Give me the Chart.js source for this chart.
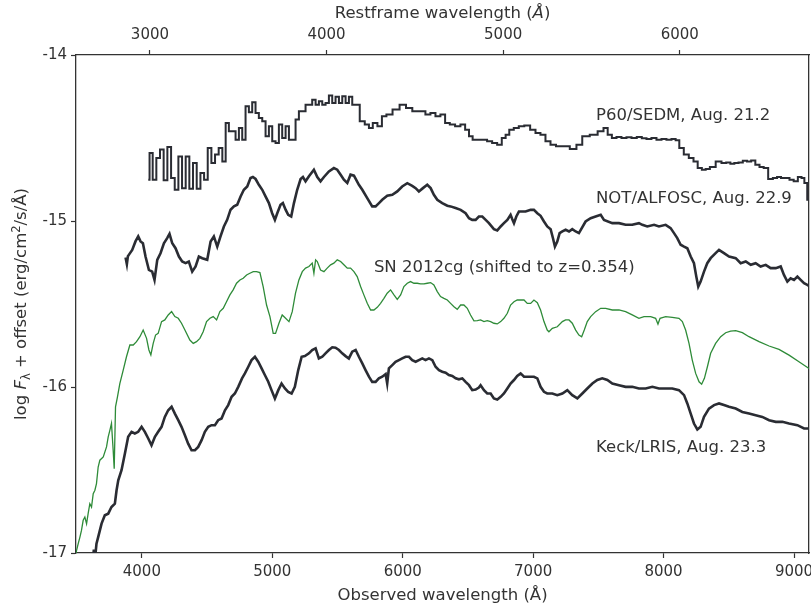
<!DOCTYPE html>
<html>
<head>
<meta charset="utf-8">
<script src="https://cdn.jsdelivr.net/npm/chart.js@4.4.1/dist/chart.umd.min.js"></script>
<style>
  html, body { margin: 0; padding: 0; background: #fff; }
</style>
</head>
<body>
<canvas id="myChart" width="811" height="606"></canvas>
<script>
// redshift used for the restframe axis
const z = 0.354;

const obsTicks = [4000, 5000, 6000, 7000, 8000, 9000];
const restTicks = [3000, 4000, 5000, 6000];
const fluxTicks = [-17, -16, -15, -14];

// P60/SEDM (binned, drawn as steps)
const p60Wave = [
  4049, 4069, 4097, 4125, 4153, 4181, 4210, 4238, 4266, 4294,
  4322, 4350, 4378, 4406, 4435, 4463, 4491, 4519, 4547, 4575,
  4603, 4631, 4654, 4680, 4706, 4731, 4757, 4782, 4808, 4833,
  4859, 4884, 4910, 4936, 4961, 4987, 5012, 5038, 5063, 5089,
  5115, 5140, 5166, 5191, 5217, 5242, 5268, 5293, 5319, 5345,
  5370, 5396, 5421, 5447, 5472, 5498, 5524, 5549, 5575, 5600,
  5626, 5651, 5690, 5728, 5754, 5787, 5825, 5856, 5894, 5950,
  6002, 6048, 6099, 6155, 6193, 6232, 6270, 6308, 6342, 6380,
  6423, 6462, 6495, 6521, 6551, 6590, 6628, 6666, 6705, 6743,
  6776, 6802, 6832, 6871, 6909, 6955, 6999, 7037, 7075, 7114,
  7152, 7198, 7249, 7313, 7351, 7402, 7466, 7523, 7556, 7587,
  7620, 7658, 7696, 7735, 7773, 7816, 7850, 7888, 7926, 7965,
  8003, 8041, 8080, 8105, 8136, 8174, 8213, 8246, 8277, 8310,
  8336, 8374, 8425, 8463, 8497, 8527, 8558, 8591, 8624, 8655,
  8688, 8719, 8752, 8783, 8821, 8855, 8885, 8916, 8949, 8982,
  9013, 9046, 9069, 9090, 9113
];
const p60Flux = [
  -14.751, -14.590, -14.751, -14.621, -14.570, -14.755, -14.554, -14.741, -14.812, -14.611,
  -14.802, -14.611, -14.806, -14.651, -14.806, -14.711, -14.751, -14.560, -14.651, -14.600,
  -14.560, -14.641, -14.409, -14.460, -14.460, -14.510, -14.440, -14.510, -14.309, -14.345,
  -14.285, -14.349, -14.379, -14.399, -14.490, -14.429, -14.520, -14.530, -14.419, -14.500,
  -14.429, -14.510, -14.510, -14.389, -14.339, -14.339, -14.299, -14.299, -14.269, -14.299,
  -14.279, -14.299, -14.289, -14.244, -14.289, -14.252, -14.289, -14.248, -14.289, -14.252,
  -14.299, -14.299, -14.399, -14.419, -14.440, -14.409, -14.429, -14.369, -14.359, -14.329,
  -14.299, -14.319, -14.339, -14.339, -14.359, -14.349, -14.369, -14.359, -14.409, -14.419,
  -14.429, -14.419, -14.450, -14.490, -14.510, -14.510, -14.510, -14.520, -14.530, -14.540,
  -14.500, -14.480, -14.450, -14.440, -14.429, -14.425, -14.450, -14.470, -14.480, -14.520,
  -14.540, -14.550, -14.550, -14.566, -14.540, -14.490, -14.480, -14.460, -14.440, -14.480,
  -14.500, -14.494, -14.500, -14.496, -14.500, -14.494, -14.502, -14.506, -14.500, -14.510,
  -14.506, -14.510, -14.506, -14.514, -14.560, -14.600, -14.621, -14.641, -14.681, -14.691,
  -14.687, -14.675, -14.641, -14.651, -14.647, -14.655, -14.651, -14.647, -14.637, -14.641,
  -14.635, -14.661, -14.675, -14.681, -14.747, -14.741, -14.735, -14.741, -14.741, -14.751,
  -14.761, -14.735, -14.741, -14.771, -14.872
];

// NOT/ALFOSC
const notWave = [
  3875, 3885, 3893, 3900, 3926, 3951, 3972, 3990, 4008, 4028,
  4054, 4079, 4097, 4118, 4143, 4169, 4194, 4212, 4233, 4258,
  4284, 4309, 4335, 4360, 4386, 4412, 4437, 4463, 4501, 4527,
  4552, 4578, 4603, 4629, 4654, 4680, 4706, 4731, 4757, 4782,
  4808, 4833, 4851, 4872, 4897, 4923, 4948, 4974, 4999, 5020,
  5038, 5063, 5081, 5102, 5122, 5145, 5166, 5191, 5217, 5235,
  5255, 5281, 5319, 5345, 5370, 5396, 5434, 5472, 5498, 5524,
  5549, 5575, 5600, 5626, 5664, 5690, 5728, 5766, 5792, 5818,
  5843, 5881, 5920, 5958, 5996, 6035, 6073, 6099, 6124, 6155,
  6188, 6214, 6239, 6265, 6303, 6342, 6367, 6405, 6444, 6482,
  6508, 6533, 6559, 6584, 6610, 6636, 6661, 6699, 6725, 6751,
  6776, 6802, 6827, 6840, 6853, 6871, 6891, 6917, 6942, 6981,
  7006, 7032, 7057, 7083, 7108, 7134, 7152, 7167, 7185, 7203,
  7224, 7249, 7275, 7300, 7326, 7351, 7402, 7441, 7479, 7518,
  7543, 7607, 7658, 7709, 7760, 7811, 7837, 7875, 7927, 7965,
  8016, 8054, 8080, 8105, 8131, 8157, 8182, 8208, 8233, 8251,
  8266, 8284, 8310, 8335, 8361, 8399, 8425, 8463, 8502, 8553,
  8591, 8630, 8668, 8706, 8744, 8783, 8821, 8860, 8898, 8923,
  8949, 8974, 9000, 9026, 9051, 9077, 9102, 9123
];
const notFlux = [
  -15.220, -15.260, -15.212, -15.204, -15.174, -15.123, -15.093, -15.123, -15.134, -15.214,
  -15.295, -15.305, -15.355, -15.234, -15.194, -15.134, -15.103, -15.077, -15.134, -15.164,
  -15.214, -15.244, -15.254, -15.244, -15.305, -15.274, -15.214, -15.224, -15.234, -15.123,
  -15.093, -15.154, -15.093, -15.033, -14.993, -14.932, -14.912, -14.902, -14.852, -14.812,
  -14.792, -14.741, -14.735, -14.747, -14.782, -14.812, -14.852, -14.892, -14.953, -14.993,
  -14.953, -14.902, -14.892, -14.932, -14.963, -14.973, -14.892, -14.812, -14.747, -14.735,
  -14.761, -14.731, -14.691, -14.735, -14.761, -14.735, -14.701, -14.681, -14.691, -14.721,
  -14.751, -14.771, -14.721, -14.727, -14.782, -14.812, -14.862, -14.912, -14.912, -14.892,
  -14.872, -14.848, -14.842, -14.822, -14.792, -14.772, -14.788, -14.802, -14.822, -14.802,
  -14.782, -14.802, -14.842, -14.872, -14.892, -14.908, -14.912, -14.922, -14.933, -14.953,
  -14.983, -14.993, -14.993, -14.973, -14.973, -14.993, -15.013, -15.049, -15.057, -15.033,
  -15.013, -14.993, -14.963, -14.989, -15.013, -14.973, -14.943, -14.943, -14.943, -14.933,
  -14.933, -14.953, -14.969, -15.003, -15.033, -15.049, -15.104, -15.154, -15.124, -15.073,
  -15.063, -15.053, -15.063, -15.049, -15.063, -15.073, -15.003, -14.983, -14.973, -14.963,
  -14.993, -15.013, -15.013, -15.023, -15.023, -15.013, -15.023, -15.033, -15.023, -15.033,
  -15.023, -15.043, -15.073, -15.103, -15.143, -15.154, -15.164, -15.214, -15.254, -15.335,
  -15.395, -15.365, -15.305, -15.254, -15.224, -15.194, -15.174, -15.194, -15.214, -15.224,
  -15.254, -15.244, -15.264, -15.254, -15.274, -15.264, -15.284, -15.284, -15.274, -15.325,
  -15.365, -15.345, -15.355, -15.335, -15.355, -15.375, -15.385, -15.395
];

// SN 2012cg, shifted to z = 0.354
const cgWave = [
  3492, 3499, 3512, 3525, 3537, 3550, 3563, 3576, 3588, 3601,
  3614, 3627, 3640, 3652, 3665, 3678, 3704, 3729, 3742, 3755,
  3767, 3780, 3788, 3798, 3813, 3831, 3857, 3882, 3908, 3934,
  3959, 3985, 4010, 4036, 4054, 4069, 4087, 4105, 4125, 4151,
  4176, 4202, 4228, 4253, 4279, 4304, 4330, 4368, 4394, 4419,
  4445, 4470, 4496, 4522, 4547, 4573, 4598, 4624, 4649, 4675,
  4700, 4726, 4752, 4777, 4803, 4828, 4854, 4879, 4905, 4930,
  4956, 4982, 5007, 5025, 5051, 5076, 5102, 5128, 5153, 5178,
  5204, 5230, 5255, 5281, 5306, 5319, 5332, 5345, 5370, 5396,
  5421, 5447, 5472, 5498, 5524, 5549, 5575, 5600, 5626, 5651,
  5677, 5702, 5728, 5754, 5779, 5805, 5830, 5856, 5881, 5907,
  5933, 5958, 5984, 6009, 6035, 6060, 6086, 6111, 6137, 6163,
  6188, 6214, 6239, 6265, 6290, 6316, 6342, 6367, 6393, 6418,
  6444, 6469, 6495, 6520, 6546, 6572, 6597, 6623, 6648, 6674,
  6699, 6725, 6751, 6776, 6802, 6827, 6853, 6878, 6904, 6930,
  6955, 6981, 7006, 7032, 7057, 7083, 7108, 7121, 7147, 7185,
  7224, 7249, 7275, 7300, 7326, 7351, 7372, 7392, 7415, 7441,
  7479, 7518, 7556, 7607, 7658, 7709, 7760, 7811, 7850, 7901,
  7939, 7957, 7973, 8016, 8067, 8118, 8144, 8169, 8195, 8220,
  8246, 8272, 8292, 8313, 8336, 8361, 8399, 8438, 8476, 8514,
  8553, 8604, 8655, 8732, 8809, 8885, 8962, 9038, 9115
];
const cgFlux = [
  -17.020, -16.985, -16.944, -16.904, -16.864, -16.803, -16.783, -16.824, -16.763, -16.703,
  -16.723, -16.643, -16.622, -16.582, -16.482, -16.441, -16.421, -16.361, -16.300, -16.260,
  -16.220, -16.381, -16.492, -16.119, -16.059, -15.979, -15.898, -15.818, -15.747, -15.747,
  -15.727, -15.697, -15.657, -15.707, -15.777, -15.807, -15.737, -15.687, -15.677, -15.606,
  -15.596, -15.566, -15.546, -15.576, -15.586, -15.616, -15.657, -15.717, -15.737, -15.727,
  -15.707, -15.667, -15.606, -15.586, -15.576, -15.596, -15.546, -15.526, -15.486, -15.445,
  -15.415, -15.375, -15.355, -15.345, -15.325, -15.315, -15.305, -15.305, -15.311, -15.395,
  -15.506, -15.576, -15.677, -15.677, -15.616, -15.566, -15.586, -15.606, -15.546, -15.435,
  -15.355, -15.305, -15.284, -15.274, -15.254, -15.315, -15.234, -15.244, -15.295, -15.305,
  -15.284, -15.264, -15.254, -15.234, -15.244, -15.264, -15.284, -15.284, -15.305, -15.335,
  -15.395, -15.445, -15.496, -15.536, -15.536, -15.520, -15.496, -15.466, -15.435, -15.415,
  -15.445, -15.472, -15.445, -15.395, -15.375, -15.365, -15.375, -15.375, -15.379, -15.379,
  -15.375, -15.371, -15.385, -15.425, -15.455, -15.466, -15.476, -15.496, -15.516, -15.532,
  -15.506, -15.506, -15.526, -15.566, -15.602, -15.600, -15.596, -15.606, -15.600, -15.606,
  -15.616, -15.620, -15.606, -15.586, -15.556, -15.506, -15.486, -15.476, -15.476, -15.476,
  -15.496, -15.496, -15.476, -15.492, -15.536, -15.606, -15.657, -15.667, -15.647, -15.637,
  -15.606, -15.596, -15.596, -15.616, -15.657, -15.687, -15.697, -15.657, -15.606, -15.576,
  -15.546, -15.526, -15.526, -15.536, -15.536, -15.546, -15.566, -15.586, -15.576, -15.576,
  -15.586, -15.621, -15.586, -15.576, -15.580, -15.586, -15.606, -15.657, -15.737, -15.838,
  -15.918, -15.969, -15.983, -15.948, -15.878, -15.797, -15.737, -15.697, -15.673, -15.663,
  -15.661, -15.673, -15.697, -15.727, -15.753, -15.773, -15.808, -15.848, -15.888
];

// Keck/LRIS
const keckWave = [
  3620, 3632, 3640, 3652, 3665, 3678, 3691, 3716, 3742, 3767,
  3793, 3806, 3819, 3844, 3870, 3895, 3921, 3946, 3972, 3998,
  4023, 4049, 4074, 4100, 4125, 4151, 4176, 4202, 4228, 4253,
  4279, 4304, 4330, 4355, 4381, 4407, 4432, 4458, 4483, 4509,
  4534, 4560, 4585, 4611, 4637, 4662, 4688, 4713, 4739, 4768,
  4790, 4816, 4841, 4867, 4892, 4918, 4943, 4969, 4994, 5020,
  5046, 5071, 5097, 5122, 5148, 5173, 5199, 5225, 5250, 5281,
  5306, 5332, 5357, 5383, 5408, 5434, 5460, 5485, 5511, 5536,
  5562, 5587, 5613, 5639, 5664, 5690, 5715, 5741, 5766, 5792,
  5817, 5843, 5869, 5881, 5894, 5920, 5945, 5971, 5996, 6022,
  6048, 6073, 6099, 6124, 6150, 6175, 6201, 6227, 6252, 6278,
  6303, 6329, 6354, 6380, 6406, 6431, 6457, 6482, 6508, 6533,
  6559, 6584, 6597, 6623, 6648, 6674, 6699, 6725, 6751, 6776,
  6802, 6827, 6853, 6878, 6904, 6930, 6955, 6981, 7006, 7032,
  7057, 7083, 7108, 7147, 7185, 7224, 7262, 7300, 7339, 7377,
  7415, 7454, 7492, 7530, 7569, 7607, 7658, 7709, 7760, 7811,
  7863, 7914, 7965, 8016, 8067, 8118, 8157, 8182, 8208, 8233,
  8259, 8284, 8310, 8348, 8387, 8425, 8463, 8502, 8553, 8604,
  8655, 8706, 8757, 8809, 8860, 8911, 8962, 9026, 9077, 9115
];
const keckFlux = [
  -17.080, -16.980, -17.040, -16.944, -16.904, -16.864, -16.823, -16.773, -16.763, -16.723,
  -16.703, -16.622, -16.562, -16.501, -16.401, -16.300, -16.270, -16.280, -16.270, -16.240,
  -16.270, -16.310, -16.351, -16.300, -16.270, -16.240, -16.180, -16.140, -16.119, -16.160,
  -16.200, -16.240, -16.290, -16.341, -16.381, -16.381, -16.361, -16.320, -16.270, -16.240,
  -16.230, -16.230, -16.200, -16.190, -16.140, -16.109, -16.059, -16.039, -15.999, -15.948,
  -15.918, -15.878, -15.838, -15.818, -15.848, -15.888, -15.928, -15.968, -16.019, -16.069,
  -16.019, -15.979, -16.009, -16.029, -16.039, -15.999, -15.898, -15.818, -15.814, -15.797,
  -15.777, -15.767, -15.828, -15.818, -15.797, -15.777, -15.761, -15.763, -15.777, -15.797,
  -15.814, -15.828, -15.787, -15.777, -15.818, -15.858, -15.898, -15.938, -15.969, -15.969,
  -15.948, -15.938, -15.922, -15.979, -15.888, -15.868, -15.848, -15.838, -15.828, -15.818,
  -15.818, -15.838, -15.848, -15.838, -15.828, -15.838, -15.828, -15.838, -15.878, -15.898,
  -15.908, -15.914, -15.928, -15.934, -15.948, -15.954, -15.948, -15.969, -15.989, -16.019,
  -16.015, -16.003, -15.989, -16.019, -16.039, -16.039, -16.069, -16.075, -16.059, -16.039,
  -16.009, -15.979, -15.958, -15.934, -15.918, -15.938, -15.938, -15.938, -15.938, -15.948,
  -15.999, -16.029, -16.039, -16.039, -16.049, -16.039, -16.019, -16.049, -16.069, -16.039,
  -16.009, -15.979, -15.958, -15.948, -15.958, -15.979, -15.989, -15.999, -15.999, -16.009,
  -16.009, -15.999, -16.009, -16.009, -16.009, -16.019, -16.049, -16.099, -16.160, -16.220,
  -16.256, -16.240, -16.180, -16.130, -16.109, -16.099, -16.109, -16.119, -16.130, -16.150,
  -16.160, -16.170, -16.180, -16.200, -16.210, -16.210, -16.220, -16.230, -16.250, -16.250
];

const noteText = ['P60/SEDM, Aug. 21.2', 'NOT/ALFOSC, Aug. 22.9', 'SN 2012cg (shifted to z=0.354)', 'Keck/LRIS, Aug. 23.3'];
const noteWave = [7482, 7482, 5779, 7482];
const noteFlux = [-14.365, -14.866, -15.283, -16.363];

const xMin = 3495, xMax = 9115;
const ink = '#333333';
const dark = '#2a2c33';
const green = '#2e8b38';
const FAMILY = '"DejaVu Sans", sans-serif';

function pts(w, f) {
  return w.map((v, i) => ({ x: v, y: f[i] }));
}

// draws a run of text pieces (normal / italic / sub / superscript) centred on cx, cy
function richText(ctx, parts, cx, cy, size) {
  let total = 0;
  parts.forEach(p => {
    p.px = size * (p.scale || 1);
    ctx.font = (p.italic ? 'italic ' : '') + p.px + 'px ' + FAMILY;
    p.w = ctx.measureText(p.t).width;
    total += p.w;
  });
  let x = cx - total / 2;
  parts.forEach(p => {
    ctx.font = (p.italic ? 'italic ' : '') + p.px + 'px ' + FAMILY;
    ctx.fillText(p.t, x, cy + (p.dy || 0) * size);
    x += p.w;
  });
}

const textPlugin = {
  id: 'spectraText',
  afterDraw(chart) {
    const { ctx, scales: { x, y }, chartArea } = chart;
    ctx.save();
    ctx.fillStyle = ink;
    ctx.textBaseline = 'middle';
    ctx.textAlign = 'left';
    ctx.font = '16.5px ' + FAMILY;
    noteText.forEach((t, i) => {
      ctx.fillText(t, x.getPixelForValue(noteWave[i]), y.getPixelForValue(noteFlux[i]));
    });

    // top axis title
    const midX = (chartArea.left + chartArea.right) / 2;
    richText(ctx, [
      { t: 'Restframe wavelength (' },
      { t: 'Å', italic: true },
      { t: ')' }
    ], midX, 14, 16.5);

    // y axis title
    ctx.translate(22, (chartArea.top + chartArea.bottom) / 2);
    ctx.rotate(-Math.PI / 2);
    richText(ctx, [
      { t: 'log ' },
      { t: 'F', italic: true },
      { t: 'λ', scale: 0.7, dy: 0.28 },
      { t: ' + offset (erg/cm' },
      { t: '2', scale: 0.7, dy: -0.3 },
      { t: '/s/Å)' }
    ], 0, 0, 16.5);
    ctx.restore();
  }
};

function fixSize(prop, size) {
  return function (scale) {
    scale[prop] = size;
    scale.paddingLeft = 0;
    scale.paddingRight = 0;
    scale.paddingTop = 0;
    scale.paddingBottom = 0;
  };
}

const tickFont = { family: FAMILY, size: 15 };
const gridOpts = { drawOnChartArea: false, drawTicks: true, tickLength: 5, tickWidth: 1.2, tickColor: ink, color: ink };
const borderOpts = { display: true, color: ink, width: 1.3 };

new Chart('myChart', {
  type: 'line',
  data: {
    datasets: [
      { data: pts(p60Wave, p60Flux), borderColor: dark, borderWidth: 2, stepped: 'middle' },
      { data: pts(notWave, notFlux), borderColor: dark, borderWidth: 2.6 },
      { data: pts(keckWave, keckFlux), borderColor: dark, borderWidth: 2.6 },
      { data: pts(cgWave, cgFlux), borderColor: green, borderWidth: 1.3 }
    ]
  },
  options: {
    responsive: false,
    animation: false,
    events: [],
    layout: { padding: 0 },
    elements: { point: { radius: 0 }, line: { tension: 0, borderJoinStyle: 'miter' } },
    plugins: { legend: { display: false }, tooltip: { enabled: false } },
    scales: {
      x: {
        type: 'linear', position: 'bottom', min: xMin, max: xMax,
        afterFit: fixSize('height', 53),
        afterBuildTicks: s => { s.ticks = obsTicks.map(v => ({ value: v })); },
        grid: gridOpts, border: borderOpts,
        ticks: { font: tickFont, color: ink, padding: 5, maxRotation: 0, autoSkip: false, callback: v => String(v) },
        title: { display: true, text: 'Observed wavelength (Å)', color: ink, font: { family: FAMILY, size: 16.5 }, padding: { top: 0, bottom: 0 } }
      },
      x2: {
        type: 'linear', position: 'top', min: xMin / (1 + z), max: xMax / (1 + z),
        afterFit: fixSize('height', 55),
        afterBuildTicks: s => { s.ticks = restTicks.map(v => ({ value: v })); },
        grid: gridOpts, border: borderOpts,
        ticks: { font: tickFont, color: ink, padding: 6, maxRotation: 0, autoSkip: false, callback: v => String(v) }
      },
      y: {
        type: 'linear', position: 'left', min: -17, max: -14,
        afterFit: fixSize('width', 76),
        afterBuildTicks: s => { s.ticks = fluxTicks.map(v => ({ value: v })); },
        grid: gridOpts, border: borderOpts,
        ticks: { font: tickFont, color: ink, padding: 4, callback: v => String(v) }
      },
      y2: {
        type: 'linear', position: 'right', min: -17, max: -14,
        afterFit: fixSize('width', 2),
        grid: { drawOnChartArea: false, drawTicks: false },
        border: borderOpts,
        ticks: { display: false }
      }
    }
  },
  plugins: [textPlugin]
});
</script>
</body>
</html>
